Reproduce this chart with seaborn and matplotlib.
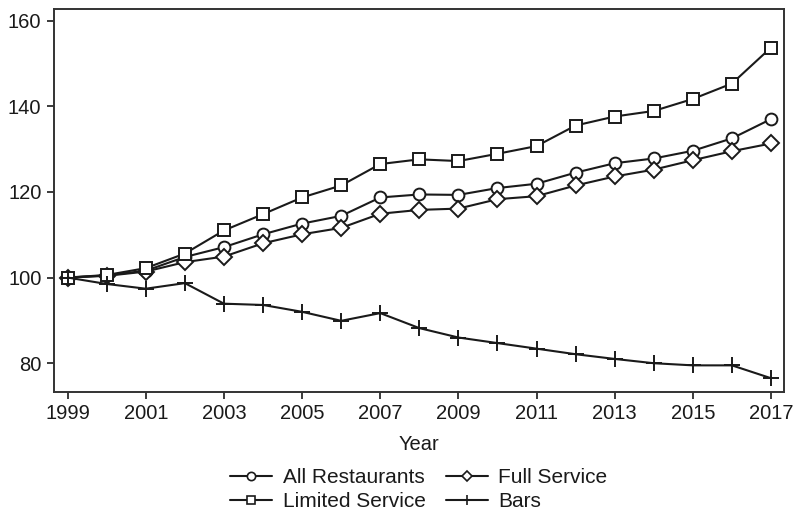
import numpy as np
import pandas as pd
import matplotlib
matplotlib.use("Agg")
import matplotlib.pyplot as plt
from matplotlib.lines import Line2D
import seaborn as sns

# Index values (1999 = 100)
years = list(range(1999, 2018))
all_restaurants = [100.0, 100.5, 101.6, 104.8, 107.1, 110.1, 112.6, 114.4, 118.7, 119.4,
                   119.3, 120.9, 121.9, 124.5, 126.7, 127.8, 129.6, 132.5, 137.0]
full_service = [100.0, 100.4, 101.4, 103.6, 104.9, 108.0, 110.1, 111.6, 114.9, 115.8,
                116.1, 118.3, 119.0, 121.5, 123.6, 125.2, 127.4, 129.5, 131.3]
limited_service = [100.0, 100.6, 102.2, 105.6, 111.0, 114.8, 118.7, 121.5, 126.5, 127.6,
                   127.2, 128.9, 130.7, 135.5, 137.6, 138.9, 141.7, 145.3, 153.7]
bars = [100.0, 98.5, 97.4, 98.7, 93.9, 93.6, 92.0, 89.9, 91.7, 88.2,
        86.0, 84.7, 83.4, 82.1, 81.0, 80.0, 79.5, 79.5, 76.5]

series_names = ["All Restaurants", "Full Service", "Limited Service", "Bars"]
series_values = [all_restaurants, full_service, limited_service, bars]
series_markers = {"All Restaurants": "o", "Full Service": "D",
                  "Limited Service": "s", "Bars": "+"}
series_msize = {"All Restaurants": 8.5, "Full Service": 8.0,
                "Limited Service": 8.5, "Bars": 11}

df = pd.concat(
    [pd.DataFrame({"Year": years, "Index": vals, "Series": name})
     for name, vals in zip(series_names, series_values)],
    ignore_index=True,
)

sns.set_style("ticks")
plt.rcParams["font.family"] = ["Liberation Sans", "DejaVu Sans"]

fig = plt.figure(figsize=(7.96, 5.15), dpi=100)
ax = fig.add_axes([0.0678, 0.239, 0.917, 0.7435])

ink = "#1a1a1a"
for name in series_names:
    sub = df[df["Series"] == name]
    sns.lineplot(data=sub, x="Year", y="Index", ax=ax, color=ink,
                 marker=series_markers[name], markersize=series_msize[name],
                 markerfacecolor="white", markeredgecolor=ink,
                 markeredgewidth=1.4, linewidth=1.5, legend=False, zorder=3)

ax.set_xlim(1998.65, 2017.33)
ax.set_ylim(73.3, 162.7)
ax.set_xticks(range(1999, 2018, 2))
ax.set_yticks([80, 100, 120, 140, 160])
ax.set_xlabel("Year", fontsize=14.5, color=ink, labelpad=8)
ax.set_ylabel("")
ax.tick_params(axis="both", labelsize=14.5, colors=ink, length=5, width=1.2, pad=4)

for sp in ax.spines.values():
    sp.set_visible(True)
    sp.set_color("#333333")
    sp.set_linewidth(1.4)

handles = [
    Line2D([], [], color=ink, lw=1.5, marker=series_markers[n],
           markersize=series_msize[n] * 0.7, markerfacecolor="white",
           markeredgecolor=ink, markeredgewidth=1.2)
    for n in series_names
]
order = [0, 2, 1, 3]
leg = ax.legend([handles[i] for i in order], [series_names[i] for i in order],
                ncol=2, loc="upper center", bbox_to_anchor=(0.5, -0.178),
                frameon=False, fontsize=15, handlelength=2.0, handletextpad=0.5,
                columnspacing=1.0, labelspacing=0.22, borderaxespad=0)
for t in leg.get_texts():
    t.set_color(ink)

fig.savefig("out.png", dpi=100, facecolor="white")
